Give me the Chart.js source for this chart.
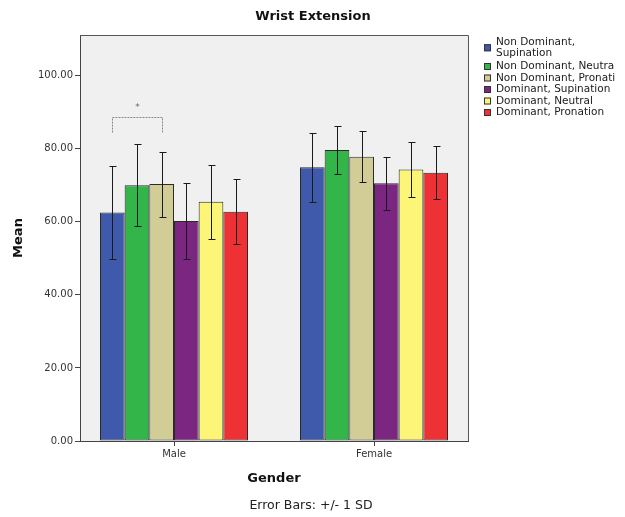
<!DOCTYPE html>
<html>
<head>
<meta charset="utf-8">
<script src="https://cdn.jsdelivr.net/npm/chart.js@4/dist/chart.umd.min.js"></script>
<style>
  html, body { margin: 0; padding: 0; background: #fff; }
  #wrap { position: relative; width: 625px; height: 517px; }
</style>
</head>
<body>
<div id="wrap"><canvas id="chart" width="625" height="517"></canvas></div>
<script>
// --- data ---
const genders = ["Male", "Female"];
const seriesLabels = [
  "Non Dominant,\nSupination",
  "Non Dominant, Neutra",
  "Non Dominant, Pronati",
  "Dominant, Supination",
  "Dominant, Neutral",
  "Dominant, Pronation"
];
const seriesColors = ["#3f5aab", "#33b549", "#d2cd97", "#7b2680", "#fdf577", "#ee3134"];

const ndSupination = [62.5, 74.9];
const ndNeutral    = [70.0, 79.6];
const ndPronation  = [70.3, 77.8];
const dSupination  = [60.2, 70.5];
const dNeutral     = [65.5, 74.3];
const dPronation   = [62.7, 73.4];

const ndSupinationSD = [12.7, 9.4];
const ndNeutralSD    = [11.2, 6.5];
const ndPronationSD  = [8.9, 7.0];
const dSupinationSD  = [10.4, 7.3];
const dNeutralSD     = [10.1, 7.6];
const dPronationSD   = [8.9, 7.2];

const yTicks = [0, 20, 40, 60, 80, 100];

// significance bracket (Male, bars 1 and 3)
const bracketTop = 88.6;
const bracketLeg = 84.4;
const starValue = 91.2;

const meansList = [ndSupination, ndNeutral, ndPronation, dSupination, dNeutral, dPronation];
const sdList = [ndSupinationSD, ndNeutralSD, ndPronationSD, dSupinationSD, dNeutralSD, dPronationSD];

const FONT = "'DejaVu Sans', sans-serif";

// --- plugins ---
const plotFrame = {
  id: "plotFrame",
  beforeDraw(chart) {
    const { ctx, chartArea: a } = chart;
    ctx.save();
    ctx.fillStyle = "#f0f0f0";
    ctx.fillRect(a.left, a.top, a.right - a.left, a.bottom - a.top);
    ctx.restore();
  },
  afterDraw(chart) {
    const { ctx, chartArea: a } = chart;
    ctx.save();
    ctx.strokeStyle = "#555";
    ctx.lineWidth = 1;
    ctx.beginPath();
    ctx.moveTo(a.left, a.top + 0.5);
    ctx.lineTo(a.right + 0.5, a.top + 0.5);
    ctx.lineTo(a.right + 0.5, a.bottom);
    ctx.stroke();

    // title and footnote
    ctx.fillStyle = "#111";
    ctx.textAlign = "center";
    ctx.textBaseline = "middle";
    ctx.font = "bold 13px " + FONT;
    ctx.fillText("Wrist Extension", 313, 17);
    ctx.fillStyle = "#222";
    ctx.font = "12.5px " + FONT;
    ctx.fillText("Error Bars: +/- 1 SD", 311, 506);

    // legend
    ctx.textAlign = "left";
    ctx.font = "10.5px " + FONT;
    let y = 42;
    const lineH = 11.5;
    chart.data.datasets.forEach((ds) => {
      const lines = ds.label.split("\n");
      const mid = y + (lines.length - 1) * lineH / 2;
      ctx.fillStyle = ds.backgroundColor;
      ctx.fillRect(484, mid - 3.5, 7, 7);
      ctx.strokeStyle = "#333";
      ctx.strokeRect(484.5, mid - 3, 6, 6);
      ctx.fillStyle = "#1a1a1a";
      lines.forEach((t, k) => ctx.fillText(t, 496, y + k * lineH));
      y += lines.length * lineH + (lines.length > 1 ? 1.5 : 0);
    });
    ctx.restore();
  },
  afterDatasetsDraw(chart) {
    const { ctx } = chart;
    const yScale = chart.scales.y;
    ctx.save();
    // error bars
    ctx.strokeStyle = "#1a1a1a";
    ctx.lineWidth = 1;
    chart.data.datasets.forEach((ds, i) => {
      chart.getDatasetMeta(i).data.forEach((bar, j) => {
        const m = meansList[i][j], s = sdList[i][j];
        const x = Math.round(bar.x) + 0.5;
        const yt = Math.round(yScale.getPixelForValue(m + s)) + 0.5;
        const yb = Math.round(yScale.getPixelForValue(m - s)) + 0.5;
        ctx.beginPath();
        ctx.moveTo(x, yt); ctx.lineTo(x, yb);
        ctx.moveTo(x - 3, yt); ctx.lineTo(x + 4, yt);
        ctx.moveTo(x - 3, yb); ctx.lineTo(x + 4, yb);
        ctx.stroke();
      });
    });
    // significance bracket
    const x1 = Math.round(chart.getDatasetMeta(0).data[0].x) + 0.5;
    const x2 = Math.round(chart.getDatasetMeta(2).data[0].x) + 0.5;
    const yTop = Math.round(yScale.getPixelForValue(bracketTop)) + 0.5;
    const yLeg = yScale.getPixelForValue(bracketLeg);
    ctx.strokeStyle = "#888";
    ctx.setLineDash([2, 1]);
    ctx.beginPath();
    ctx.moveTo(x1, yLeg); ctx.lineTo(x1, yTop); ctx.lineTo(x2, yTop); ctx.lineTo(x2, yLeg);
    ctx.stroke();
    ctx.setLineDash([]);
    ctx.fillStyle = "#666";
    ctx.font = "9px " + FONT;
    ctx.textAlign = "center";
    ctx.textBaseline = "middle";
    ctx.fillText("*", (x1 + x2) / 2, yScale.getPixelForValue(starValue));
    ctx.restore();
  }
};

// --- chart ---
const datasets = seriesLabels.map((label, i) => ({
  label: label,
  data: genders.map((g, j) => ({ x: j, y: meansList[i][j] })),
  backgroundColor: seriesColors[i],
  borderColor: "#2a2a2a",
  borderWidth: 1,
  borderSkipped: false,
  categoryPercentage: 0.74,
  barPercentage: 1.0
}));

new Chart(document.getElementById("chart"), {
  type: "bar",
  data: { datasets },
  plugins: [plotFrame],
  options: {
    responsive: false,
    animation: false,
    events: [],
    layout: { padding: { top: 35, right: 157, bottom: 0, left: 0 } },
    plugins: {
      legend: { display: false },
      title: { display: false },
      tooltip: { enabled: false }
    },
    scales: {
      x: {
        type: "linear",
        min: -0.47,
        max: 1.47,
        offset: false,
        afterFit: (s) => { s.height = 76; },
        afterBuildTicks: (s) => { s.ticks = genders.map((g, i) => ({ value: i })); },
        grid: { offset: false, drawOnChartArea: false, drawTicks: true, tickLength: 5, color: "#444" },
        border: { display: true, color: "#444" },
        ticks: {
          padding: 2,
          color: "#333",
          font: { family: FONT, size: 10 },
          maxRotation: 0,
          callback: (v) => genders[v]
        },
        title: {
          display: true,
          text: "Gender",
          color: "#111",
          font: { family: FONT, size: 13, weight: "bold" },
          padding: { top: 0, bottom: 31 }
        }
      },
      y: {
        min: 0,
        max: 111.1,
        afterFit: (s) => { s.width = 80; },
        afterBuildTicks: (s) => { s.ticks = yTicks.map((v) => ({ value: v })); },
        grid: { drawOnChartArea: false, drawTicks: true, tickLength: 5, color: "#444" },
        border: { display: true, color: "#444" },
        ticks: {
          padding: 2,
          color: "#333",
          font: { family: FONT, size: 10 },
          callback: (v) => v.toFixed(2)
        },
        title: {
          display: true,
          text: "Mean",
          color: "#111",
          font: { family: FONT, size: 13, weight: "bold" },
          padding: { top: 11, bottom: 0 }
        }
      }
    }
  }
});
</script>
</body>
</html>
